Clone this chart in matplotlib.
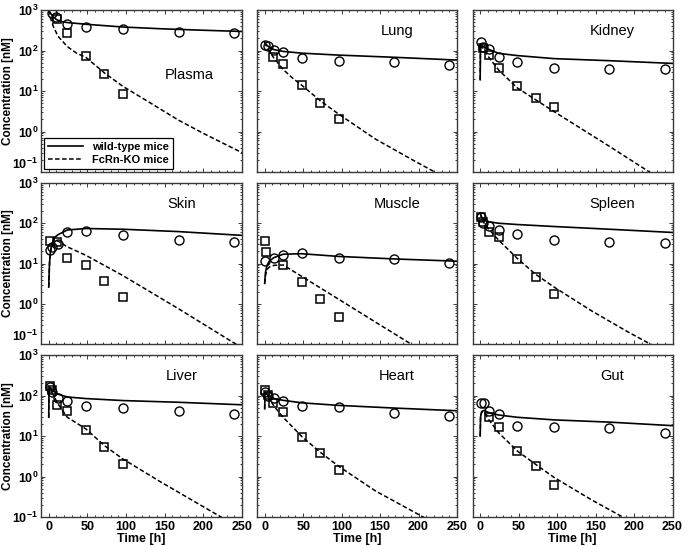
#!/usr/bin/env python3
"""Concentration-time profiles in wild-type and FcRn-KO mice, 3x3 organ panels."""

import matplotlib

matplotlib.use("Agg")
import matplotlib.pyplot as plt
import numpy as np
from matplotlib.lines import Line2D
from matplotlib.ticker import FixedLocator, FuncFormatter, LogLocator, MultipleLocator, NullFormatter

plt.rcParams["font.family"] = ["Liberation Sans", "DejaVu Sans"]
plt.rcParams["mathtext.fontset"] = "custom"
plt.rcParams["mathtext.bf"] = "Liberation Sans:bold"
plt.rcParams["mathtext.rm"] = "Liberation Sans"

organs = ["Plasma", "Lung", "Kidney", "Skin", "Muscle", "Spleen", "Liver", "Heart", "Gut"]

# measured data (circles = wild-type, squares = FcRn-KO)
plasma_wt_t = [4, 10, 24, 48, 96, 168, 240]
plasma_wt_c = [830, 660, 450, 390, 335, 280, 265]
plasma_ko_t = [11, 24, 48, 72, 96]
plasma_ko_c = [590, 265, 73, 27, 8.5]
lung_wt_t = [1, 4, 12, 24, 48, 96, 168, 240]
lung_wt_c = [140, 130, 102, 90, 65, 56, 53, 44]
lung_ko_t = [11, 24, 48, 72, 96]
lung_ko_c = [71, 46, 14, 5, 2]
kidney_wt_t = [1, 4, 12, 24, 48, 96, 168, 240]
kidney_wt_c = [165, 120, 107, 71, 51, 36, 35, 34]
kidney_ko_t = [4, 11, 24, 48, 72, 96]
kidney_ko_c = [115, 78, 38, 13, 6.9, 4.1]
skin_wt_t = [1, 4, 12, 24, 48, 96, 168, 240]
skin_wt_c = [22, 26, 30, 59, 66, 51, 38, 35]
skin_ko_t = [1, 11, 24, 48, 72, 96]
skin_ko_c = [37, 35, 14, 9.1, 3.7, 1.5]
muscle_wt_t = [1, 12, 24, 48, 96, 168, 240]
muscle_wt_c = [11.5, 13.5, 16, 18, 14, 13, 10.5]
muscle_ko_t = [0.5, 2, 24, 48, 72, 96]
muscle_ko_c = [37, 19.5, 9.2, 3.4, 1.35, 0.48]
spleen_wt_t = [1, 4, 12, 24, 48, 96, 168, 240]
spleen_wt_c = [141, 100, 86, 68, 54, 38, 34, 32]
spleen_ko_t = [1, 4, 11, 24, 48, 72, 96]
spleen_ko_c = [145, 110, 59, 45, 13, 4.7, 1.75]
liver_wt_t = [1, 4, 12, 24, 48, 96, 168, 240]
liver_wt_c = [165, 120, 86, 72, 55, 49, 42, 35]
liver_ko_t = [1, 4, 11, 24, 48, 72, 96]
liver_ko_c = [176, 135, 57, 41, 14.4, 5.5, 2.0]
heart_wt_t = [1, 4, 12, 24, 48, 96, 168, 240]
heart_wt_c = [125, 95, 86, 75, 56, 51, 37, 32]
heart_ko_t = [1, 4, 11, 24, 48, 72, 96]
heart_ko_c = [140, 104, 65, 40, 9.3, 3.8, 1.45]
gut_wt_t = [1, 5, 12, 24, 48, 96, 168, 240]
gut_wt_c = [65, 67, 41, 34, 18, 16.3, 15.8, 11.8]
gut_ko_t = [11, 24, 48, 72, 96]
gut_ko_c = [30, 17, 4.2, 1.84, 0.62]

# model simulations
plasma_wt_fit_t = [0, 2, 5, 10, 16, 24, 48, 96, 144, 192, 250]
plasma_wt_fit_c = [1000, 850, 700, 580, 520, 490, 445, 380, 345, 320, 295]
plasma_ko_fit_t = [0, 2, 6, 12, 24, 36, 48, 72, 96, 132, 168, 200, 250]
plasma_ko_fit_c = [1000, 650, 390, 225, 125, 86, 68, 28, 13, 5, 1.9, 0.9, 0.3]
lung_wt_fit_t = [0, 2, 6, 12, 24, 48, 96, 168, 250]
lung_wt_fit_c = [160, 140, 120, 105, 95, 86, 77, 68, 58]
lung_ko_fit_t = [0, 3, 6, 12, 24, 36, 48, 72, 96, 144, 192, 250]
lung_ko_fit_c = [160, 120, 95, 65, 34, 21, 14, 5.8, 2.7, 0.65, 0.2, 0.05]
kidney_wt_fit_t = [0, 0.3, 1, 4, 12, 24, 48, 96, 168, 250]
kidney_wt_fit_c = [19, 100, 145, 125, 105, 85, 75, 63, 56, 48]
kidney_ko_fit_t = [0, 0.3, 1, 4, 12, 24, 48, 96, 168, 220, 250]
kidney_ko_fit_c = [19, 100, 140, 110, 65, 33, 12, 3.1, 0.43, 0.1, 0.045]
skin_wt_fit_t = [0, 1, 2, 4, 8, 12, 24, 48, 96, 168, 250]
skin_wt_fit_c = [2.6, 10, 18, 30, 45, 52, 68, 74, 71, 62, 50]
skin_ko_fit_t = [0, 1, 2, 4, 8, 12, 24, 48, 96, 168, 250]
skin_ko_fit_c = [2.6, 10, 18, 30, 38, 36, 26, 16, 5, 0.75, 0.08]
muscle_wt_fit_t = [0, 1, 3, 6, 12, 24, 48, 96, 168, 250]
muscle_wt_fit_c = [3.2, 6, 9, 11.5, 14, 17, 17.5, 15, 13, 11.4]
muscle_ko_fit_t = [0, 1, 3, 6, 12, 24, 48, 96, 144, 192, 250]
muscle_ko_fit_c = [3.2, 5, 7, 8.2, 9, 9.2, 4.8, 1.3, 0.35, 0.095, 0.02]
spleen_wt_fit_t = [0, 2, 6, 12, 24, 48, 96, 168, 250]
spleen_wt_fit_c = [180, 140, 120, 108, 100, 93, 83, 71, 59]
spleen_ko_fit_t = [0, 2, 6, 12, 24, 48, 72, 96, 144, 192, 250]
spleen_ko_fit_c = [180, 130, 95, 68, 38, 13.5, 5.4, 2.6, 0.68, 0.2, 0.05]
liver_wt_fit_t = [0, 0.3, 1, 4, 12, 24, 48, 96, 168, 250]
liver_wt_fit_c = [29, 120, 160, 135, 108, 92, 84, 75, 68, 59]
liver_ko_fit_t = [0, 0.3, 1, 4, 12, 24, 48, 72, 96, 144, 192, 250]
liver_ko_fit_c = [29, 120, 160, 120, 62, 29, 15, 5.8, 2.7, 0.75, 0.22, 0.05]
heart_wt_fit_t = [0, 0.3, 1, 4, 12, 24, 48, 96, 168, 250]
heart_wt_fit_c = [47, 110, 120, 100, 84, 76, 66, 57, 49, 42]
heart_ko_fit_t = [0, 0.3, 1, 4, 12, 24, 48, 72, 96, 144, 192, 250]
heart_ko_fit_c = [47, 110, 120, 95, 55, 29, 9.8, 4, 1.8, 0.44, 0.14, 0.035]
gut_wt_fit_t = [0, 0.5, 2, 5, 12, 24, 48, 96, 168, 250]
gut_wt_fit_c = [10, 30, 40, 43, 37, 33, 29, 25, 22, 18]
gut_ko_fit_t = [0, 0.5, 2, 5, 12, 24, 48, 72, 96, 144, 192, 250]
gut_ko_fit_c = [10, 30, 40, 38, 24, 12, 4.3, 2.0, 0.95, 0.27, 0.085, 0.025]

y_ticks = [0.1, 1, 10, 100, 1000]

panels = {
    "Plasma": (plasma_wt_t, plasma_wt_c, plasma_ko_t, plasma_ko_c,
               plasma_wt_fit_t, plasma_wt_fit_c, plasma_ko_fit_t, plasma_ko_fit_c),
    "Lung": (lung_wt_t, lung_wt_c, lung_ko_t, lung_ko_c,
             lung_wt_fit_t, lung_wt_fit_c, lung_ko_fit_t, lung_ko_fit_c),
    "Kidney": (kidney_wt_t, kidney_wt_c, kidney_ko_t, kidney_ko_c,
               kidney_wt_fit_t, kidney_wt_fit_c, kidney_ko_fit_t, kidney_ko_fit_c),
    "Skin": (skin_wt_t, skin_wt_c, skin_ko_t, skin_ko_c,
             skin_wt_fit_t, skin_wt_fit_c, skin_ko_fit_t, skin_ko_fit_c),
    "Muscle": (muscle_wt_t, muscle_wt_c, muscle_ko_t, muscle_ko_c,
               muscle_wt_fit_t, muscle_wt_fit_c, muscle_ko_fit_t, muscle_ko_fit_c),
    "Spleen": (spleen_wt_t, spleen_wt_c, spleen_ko_t, spleen_ko_c,
               spleen_wt_fit_t, spleen_wt_fit_c, spleen_ko_fit_t, spleen_ko_fit_c),
    "Liver": (liver_wt_t, liver_wt_c, liver_ko_t, liver_ko_c,
              liver_wt_fit_t, liver_wt_fit_c, liver_ko_fit_t, liver_ko_fit_c),
    "Heart": (heart_wt_t, heart_wt_c, heart_ko_t, heart_ko_c,
              heart_wt_fit_t, heart_wt_fit_c, heart_ko_fit_t, heart_ko_fit_c),
    "Gut": (gut_wt_t, gut_wt_c, gut_ko_t, gut_ko_c,
            gut_wt_fit_t, gut_wt_fit_c, gut_ko_fit_t, gut_ko_fit_c),
}

W, H = 685, 546
col_px = [(41, 201), (257, 200), (472.5, 200)]
row_px = [(10, 162), (183, 161), (355, 162)]
label_pos = {"Plasma": (0.74, 0.60)}


def log_label(v, _pos):
    return r"$\mathbf{10^{%d}}$" % int(round(np.log10(v)))


fig = plt.figure(figsize=(W / 100, H / 100), dpi=100)
frame = "#3a3a3a"

for i, organ in enumerate(organs):
    r, c = divmod(i, 3)
    x0, w = col_px[c]
    y0, h = row_px[r]
    ax = fig.add_axes([x0 / W, 1 - (y0 + h) / H, w / W, h / H])
    wt_t, wt_c, ko_t, ko_c, wf_t, wf_c, kf_t, kf_c = panels[organ]

    ax.plot(wf_t, wf_c, "-", color="black", lw=1.2)
    ax.plot(kf_t, kf_c, "--", color="black", lw=1.1, dashes=(3, 1.6))
    ax.plot(wt_t, wt_c, "o", mfc="none", mec="black", ms=6.5, mew=1.0)
    ax.plot(ko_t, ko_c, "s", mfc="none", mec="black", ms=5.5, mew=1.1)

    ax.set_yscale("log")
    ax.set_ylim(0.1, 1000)
    ax.set_xlim(-10, 250)
    ax.xaxis.set_major_locator(MultipleLocator(50))
    ax.xaxis.set_minor_locator(MultipleLocator(10))
    ax.yaxis.set_major_locator(FixedLocator(y_ticks))
    ax.yaxis.set_minor_locator(LogLocator(base=10, subs=np.arange(2, 10), numticks=20))
    ax.yaxis.set_minor_formatter(NullFormatter())
    ax.tick_params(which="both", direction="in", top=True, right=True,
                   color=frame, width=0.7)
    ax.tick_params(which="major", length=3)
    ax.tick_params(which="minor", length=1.5)
    for sp in ax.spines.values():
        sp.set_color(frame)
        sp.set_linewidth(1.0)

    if c == 0:
        ax.yaxis.set_major_formatter(FuncFormatter(log_label))
        ax.tick_params(axis="y", labelsize=9, pad=2)
        ax.set_ylabel("Concentration [nM]", fontsize=8.5, fontweight="bold", labelpad=-1)
        ticks = ax.yaxis.get_major_ticks()
        if r < 2:
            # lift the lowest label so it stacks above the next panel's top label
            ticks[0].label1.set_va("bottom")
    else:
        ax.tick_params(axis="y", labelleft=False)
    if r == 2:
        ax.tick_params(axis="x", labelsize=9, pad=3)
        for lab in ax.get_xticklabels():
            lab.set_fontweight("bold")
        ax.set_xlabel("Time [h]", fontsize=9, fontweight="bold", labelpad=0)
    else:
        ax.tick_params(axis="x", labelbottom=False)

    lx, ly = label_pos.get(organ, (0.70, 0.87))
    ax.text(lx, ly, organ, transform=ax.transAxes, ha="center", va="center", fontsize=10.5)

    if organ == "Plasma":
        handles = [Line2D([], [], color="black", lw=1.2, ls="-"),
                   Line2D([], [], color="black", lw=1.1, ls="--", dashes=(3, 1.6))]
        leg = ax.legend(handles, ["wild-type mice", "FcRn-KO mice"], loc="lower left",
                        prop={"weight": "bold", "size": 8}, fancybox=False,
                        framealpha=1, edgecolor="black", borderaxespad=0.25,
                        handlelength=3.2, borderpad=0.35, labelspacing=0.3)
        leg.get_frame().set_linewidth(0.9)

fig.savefig("out.png", dpi=100)
